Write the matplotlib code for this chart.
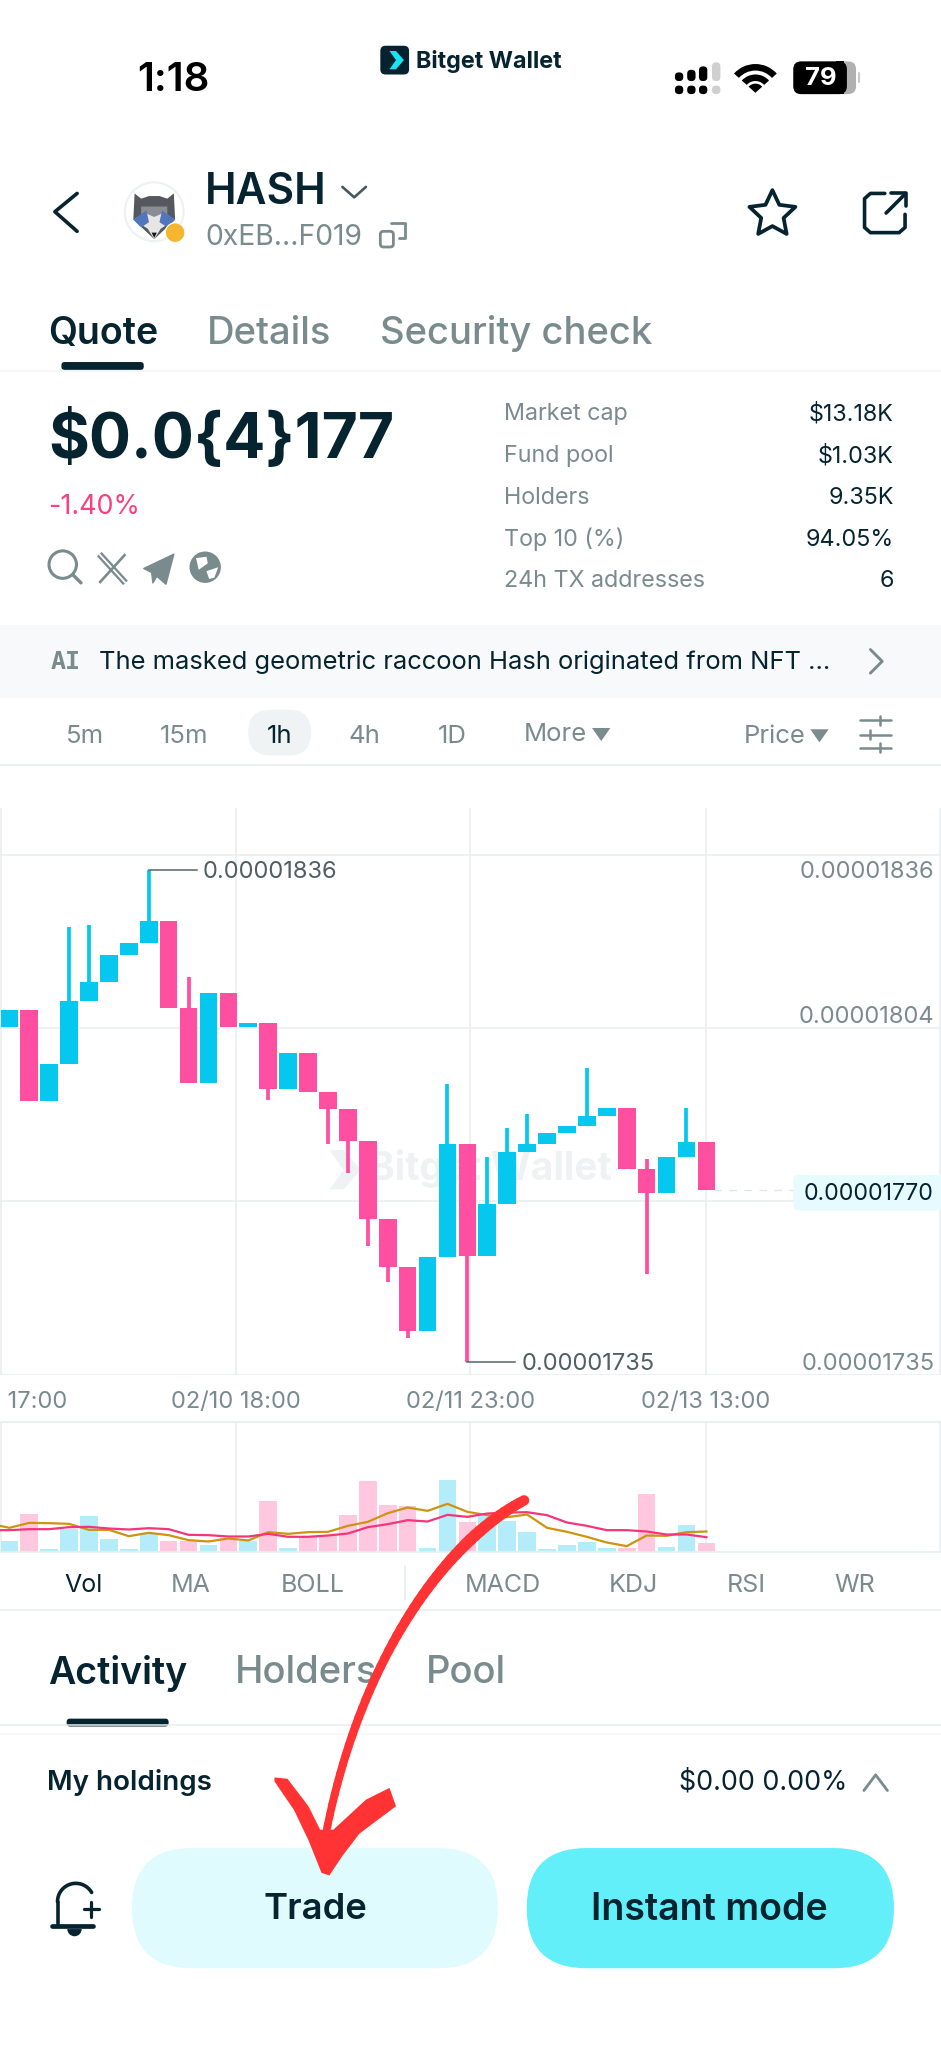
import numpy as np
import matplotlib
matplotlib.use('Agg')
import matplotlib.pyplot as plt
from matplotlib.patches import Circle, FancyBboxPatch, Polygon, Wedge, Rectangle
from matplotlib.collections import LineCollection

plt.rcParams['font.family'] = ['Inter', 'DejaVu Sans']

# candle values, in units of 1e-8
opens = [1803.7, 1807.3, 1788.6, 1796.2, 1809.0, 1812.9, 1818.4, 1820.9, 1825.5, 1807.6, 1792.3, 1810.7,
         1803.8, 1804.5, 1791.0, 1798.3, 1790.3, 1786.8, 1780.3, 1764.4, 1754.4, 1741.4, 1756.5, 1779.8,
         1756.7, 1767.3, 1778.0, 1779.7, 1781.9, 1783.4, 1785.4, 1787.0, 1774.5, 1769.7, 1777.1, 1780.2]
closes = [1807.3, 1788.6, 1796.2, 1809.0, 1812.9, 1818.4, 1820.9, 1825.5, 1807.6, 1792.3, 1810.7, 1803.8,
          1804.5, 1791.0, 1798.3, 1790.3, 1786.8, 1780.3, 1764.4, 1754.4, 1741.4, 1756.5, 1779.8, 1756.7,
          1767.3, 1778.0, 1779.7, 1781.9, 1783.4, 1785.4, 1787.0, 1774.5, 1769.7, 1777.1, 1780.2, 1770.2]
highs = [1807.3, 1807.3, 1796.2, 1824.3, 1824.6, 1818.4, 1820.9, 1836.0, 1825.5, 1814.0, 1810.7, 1810.7,
         1804.5, 1804.5, 1798.3, 1798.3, 1790.3, 1786.8, 1780.3, 1764.4, 1754.4, 1756.5, 1792.1, 1779.8,
         1777.1, 1783.0, 1785.9, 1781.9, 1783.4, 1795.2, 1787.0, 1787.0, 1776.6, 1777.1, 1787.0, 1780.2]
lows = [1803.7, 1788.6, 1788.6, 1796.2, 1809.0, 1812.9, 1818.4, 1820.9, 1807.6, 1792.3, 1792.3, 1803.8,
        1803.8, 1788.8, 1791.0, 1790.3, 1779.8, 1773.8, 1758.8, 1751.4, 1739.9, 1741.4, 1756.5, 1735.0,
        1756.7, 1767.3, 1778.0, 1779.7, 1781.9, 1783.4, 1785.4, 1774.5, 1753.0, 1769.7, 1777.1, 1770.2]

# volume and its two averages (relative heights, no scale shown)
volumes = [33, 114, 8, 69, 110, 40, 9, 56, 32, 34, 22, 41, 33, 153, 13, 44, 51, 111,
           213, 143, 139, 13, 216, 91, 108, 93, 60, 9, 21, 31, 13, 13, 174, 14, 81, 26]
vol_ma_gold = [86, 73, 88, 87, 85, 67, 67, 48, 58, 51, 36, 32, 41, 35, 60, 55, 60, 61, 79,
               91, 117, 134, 124, 145, 121, 111, 105, 113, 73, 61, 46, 29, 18, 50, 49, 60, 62]
vol_ma_pink = [66, 66, 69, 69, 75, 76, 71, 68, 72, 69, 52, 51, 47, 47, 55, 46, 46, 50, 56, 75,
               84, 96, 92, 112, 106, 116, 119, 120, 111, 89, 79, 66, 66, 62, 53, 53, 45]

grid_x = [-0.43, 11.37, 23.15, 34.97, 46.74]
grid_prices = [1839.0, 1803.5, 1768.0, 1732.33]
time_labels = [' 17:00', '02/10 18:00', '02/11 23:00', '02/13 13:00', '']
price_labels = ['0.00001836', '0.00001804', '0.00001735']
price_label_y = [1836.0, 1803.6, 1735.0]
last_price = 1770.2

stat_names = ['Market cap', 'Fund pool', 'Holders', 'Top 10 (%)', '24h TX addresses']
stat_values = ['$13.18K', '$1.03K', '9.35K', '94.05%', '6']
intervals = ['5m', '15m', '1h', '4h', '1D']
interval_x = [65, 141, 214, 279, 346]
indicators = ['Vol', 'MA', 'BOLL', 'MACD', 'KDJ', 'RSI', 'WR']
indicator_x = [64, 146, 239, 385, 485, 571, 654]

DARK = '#062330'
GREY = '#7A8B8E'
LINE = '#E8EEEE'
CYAN = '#06C8EF'
PINK = '#FF4FA0'
RED = '#FF3333'
LABEL = 17

W, H = 720, 1567
fig = plt.figure(figsize=(9.41, 20.48), dpi=100, facecolor='white')


def add_axes_between(top, bottom):
    return fig.add_axes([0, 1 - bottom / H, 1, (bottom - top) / H])


x = np.arange(len(opens))
xlim = (-0.469, 46.78)
body_w = 0.887
up = np.array(closes) >= np.array(opens)

# price chart
ax = add_axes_between(618, 1052)
ax.set_zorder(1)
ax.set_xlim(*xlim)
ax.set_ylim(1732.33, 1848.71)
candle_colors = [CYAN if u else PINK for u in up]
ax.bar(x, np.abs(np.array(closes) - np.array(opens)), bottom=np.minimum(opens, closes),
       width=body_w, color=candle_colors, zorder=3)
ax.vlines(x, lows, highs, colors=candle_colors, lw=2.7, zorder=3)
ax.set_xticks(grid_x, time_labels)
ax.set_yticks(grid_prices, [])
ax.grid(True, color=LINE, lw=1.1, zorder=0)
ax.set_axisbelow(True)
ax.tick_params(length=0, pad=11.5, labelsize=LABEL, labelcolor=GREY)
ax.get_xticklabels()[0].set_ha('left')
for s in ax.spines.values():
    s.set_visible(False)

for lab, y in zip(price_labels[:1] + price_labels[2:], price_label_y[:1] + price_label_y[2:]):
    ax.text(46.45, y, lab, ha='right', va='center_baseline', fontsize=LABEL, color=GREY)
ax.text(46.45, price_label_y[1], price_labels[1], ha='right', va='bottom', fontsize=LABEL, color=GREY)

# high / low markers
hi_i, lo_i = int(np.argmax(highs)), int(np.argmin(lows))
ax.plot([hi_i, hi_i + 2.4], [highs[hi_i], highs[hi_i]], color='#55666A', lw=1.1, zorder=4)
ax.text(hi_i + 2.7, highs[hi_i], '%.8f' % (highs[hi_i] * 1e-8), va='center_baseline', fontsize=LABEL, color='#4F5F62')
ax.plot([lo_i, lo_i + 2.4], [lows[lo_i], lows[lo_i]], color='#55666A', lw=1.1, zorder=4)
ax.text(lo_i + 2.7, lows[lo_i], '%.8f' % (lows[lo_i] * 1e-8), va='center_baseline', fontsize=LABEL, color='#4F5F62')

# last price line
ax.plot([35.4, 39.6], [last_price, last_price], color='#DDE4E4', lw=0.9, ls=(0, (6, 6)), zorder=2)

# volume chart
vax = add_axes_between(1088, 1187.6)
vax.set_zorder(1)
vax.set_xlim(*xlim)
vax.set_ylim(0, 391)
vax.bar(x, volumes, width=body_w, color=['#B5ECFA' if u else '#FFC8DF' for u in up], zorder=2)
xl = np.arange(-1, 36)
vax.plot(xl, vol_ma_gold, color='#CC9410', lw=1.6, zorder=3)
vax.plot(xl, vol_ma_pink, color='#F5357A', lw=1.6, zorder=4)
vax.set_xticks(grid_x, [])
vax.set_yticks([])
vax.grid(True, axis='x', color=LINE, lw=1.1, zorder=0)
vax.set_axisbelow(True)
vax.tick_params(length=0)
for k, s in vax.spines.items():
    s.set_visible(k in ('top', 'bottom'))
    s.set_color(LINE)
    s.set_linewidth(1.3)

# interface layer in reference pixel units
ui = fig.add_axes([0, 0, 1, 1])
ui.set_zorder(2)
ui.patch.set_alpha(0)
ui.set_xlim(0, W)
ui.set_ylim(H, 0)
ui.axis('off')


def t(px, py, s, size, color=DARK, weight='normal', ha='left', **kw):
    ui.text(px, py - size * 0.06, s, fontsize=size, color=color, fontweight=weight, ha=ha, va='center_baseline', **kw)


def pl(xs, ys, color=DARK, lw=2.3, **kw):
    ui.plot(xs, ys, color=color, lw=lw, solid_capstyle=kw.pop('cap', 'round'), solid_joinstyle='round', **kw)


def rbox(x0, y0, x1, y1, r, color, z=1, **kw):
    ui.add_patch(FancyBboxPatch((x0 + r, y0 + r), x1 - x0 - 2 * r, y1 - y0 - 2 * r,
                                boxstyle='round,pad=%f,rounding_size=%f' % (r, r), fc=color, ec='none', zorder=z, **kw))


# watermark sits under the candles
ax.text(375, 894, 'Bitget Wallet', transform=ui.transData, ha='center', va='center', fontsize=28,
        fontweight='bold', color='#EEF2F3', zorder=1)
ax.add_patch(Polygon([(252, 880), (263, 880), (276, 895), (263, 910), (252, 910), (263, 895)],
                     transform=ui.transData, fc='#EEF2F3', ec='none', zorder=1))

# status bar
t(133, 60, '1:18', 29, color='#000000', weight='semibold', ha='center')
rbox(291, 35, 313, 57, 4, '#06222E')
ui.add_patch(Polygon([(298, 39), (303, 39), (309, 46), (303, 53), (298, 53), (303, 46)], fc='#17E5F2', ec='none', zorder=2))
t(318, 46, 'Bitget Wallet', 16.8, weight='bold')
sig_x = [519.6, 529, 538, 548]
sig_top = [55.4, 53.4, 50.8, 47.7]
for i in range(4):
    c = '#000000' if i < 3 else '#CFCFCF'
    rbox(sig_x[i] - 3.2, sig_top[i], sig_x[i] + 3.2, 62, 3, c)
    rbox(sig_x[i] - 3.2, 65.5, sig_x[i] + 3.2, 72, 3, c)
for r, w in [(22, 5), (14, 5)]:
    ui.add_patch(Wedge((578, 71), r, 222, 318, width=w, fc='#000000', ec='none'))
ui.add_patch(Wedge((578, 71), 7, 222, 318, fc='#000000', ec='none'))
rbox(607, 47, 655, 72, 6, '#B0B0B0')
rbox(607, 47, 648, 72, 6, '#000000', z=2)
ui.add_patch(Rectangle((640, 47), 6, 25, fc='#000000', ec='none', zorder=2))
pl([657.5, 657.5], [56, 63], color='#C8C8C8', lw=1.5)
ui.text(628, 60, '79', fontsize=18.5, color='white', fontweight='bold', ha='center', va='center', zorder=3)

# header
pl([59, 42, 59], [148, 162, 177], lw=2.6)
ui.add_patch(Circle((118, 162), 22.5, fc='white', ec='#EDF1F1', lw=1.5))
ui.add_patch(Polygon([(103, 148), (108, 152), (114, 150), (122, 150), (128, 152), (133, 148), (134, 168), (118, 183), (102, 168)], fc='#55585E', ec='none'))
ui.add_patch(Polygon([(108, 158), (128, 158), (128, 166), (118, 168), (108, 166)], fc='#8A8D92', ec='none'))
ui.add_patch(Polygon([(102, 168), (111, 163), (118, 166), (125, 163), (134, 168), (123, 175), (118, 183), (113, 175)], fc='#E6E6E6', ec='none'))
ui.add_patch(Polygon([(102, 168), (112, 161), (114, 170), (108, 174)], fc='#5276BB', ec='none'))
ui.add_patch(Polygon([(134, 168), (124, 161), (122, 170), (128, 174)], fc='#5276BB', ec='none'))
ui.add_patch(Polygon([(116, 178), (120, 178), (118, 182)], fc='#111111', ec='none'))
ui.add_patch(Circle((134, 178), 7.5, fc='#F3B62D', ec='white', lw=0.8))
t(157, 146, 'HASH', 30.5, weight='semibold')
pl([262, 271, 280], [143, 151, 143], color='#44585F', lw=1.9)
t(157, 181, '0xEB...F019', 20.4, color=GREY)
ui.add_patch(FancyBboxPatch((291, 177), 10, 12, boxstyle='round,pad=0,rounding_size=2.5', fc='none', ec=GREY, lw=2))
pl([299, 310, 310, 305], [171, 171, 182, 182], color=GREY, lw=2)
ang = np.deg2rad(np.arange(0, 360, 36) - 90)
rad = np.array([18.5, 9] * 5)
ui.add_patch(Polygon(np.c_[591 + rad * np.cos(ang), 164 + rad * np.sin(ang)], fc='none', ec=DARK, lw=2.7, joinstyle='round'))
pl([677, 666, 661.5, 661.5, 666, 688, 692.5, 692.5], [148, 148, 152, 174, 178, 178, 174, 164], lw=2.6)
pl([678, 692], [163, 149], lw=2.6)
pl([682, 693, 693], [148, 148, 158], lw=2.6)

# top tabs
t(37, 254, 'Quote', 27, weight='semibold')
t(158, 254, 'Details', 27.5, color=GREY, weight='medium')
t(291, 254, 'Security check', 27.5, color=GREY, weight='medium')
rbox(47, 277, 110, 283, 2.5, DARK)
pl([0, W], [284, 284], color='#F2F5F5', lw=1.1)

# price block
t(37, 335, '$0.0{4}177', 45, weight='bold')
t(37, 387, '-1.40%', 19.4, color='#F9417F')
ui.add_patch(Circle((48, 432), 10.5, fc='none', ec=GREY, lw=2.2))
pl([56, 62], [440, 446], color=GREY, lw=2.4)
pl([76, 96], [424, 446], color=GREY, lw=4.6, cap='butt')
pl([76, 96], [424, 446], color='white', lw=1.3, cap='butt')
pl([96, 76], [424, 446], color=GREY, lw=1.9, cap='butt')
ui.add_patch(Polygon([(110, 435), (133, 424), (127, 447), (120, 441), (117, 446), (116, 438)], fc=GREY, ec=GREY, lw=1, joinstyle='round'))
ui.add_patch(Circle((157, 434), 12, fc=GREY, ec='none'))
ui.add_patch(Polygon([(150, 427), (158, 426), (159, 431), (152, 436)], fc='white', ec='none'))
ui.add_patch(Polygon([(158, 437), (167, 434), (164, 442), (160, 443)], fc='white', ec='none'))

for i in range(5):
    t(386, 316 + 32 * i, stat_names[i], 16.8, color=GREY)
    t(684, 316 + 32 * i, stat_values[i], 16.8, ha='right')

# AI banner
ui.add_patch(Rectangle((0, 478), W, 56, fc='#F7F9FA', ec='none'))
t(39, 506, 'AI', 18, color=GREY, weight='bold', family='DejaVu Sans Mono')
t(76, 506, 'The masked geometric raccoon Hash originated from NFT ...', 18.4)
pl([666, 675, 666], [497, 506, 515], color=GREY, lw=2.1)

# interval row
rbox(190, 543, 238, 578, 17, '#EFF3F3')
for lab, px in zip(intervals, interval_x):
    t(px, 563, lab, 18.5, color=DARK if lab == '1h' else GREY, ha='center')
t(401, 561, 'More', 18.5, color=GREY)
ui.add_patch(Polygon([(453, 557), (467, 557), (460, 567)], fc=GREY, ec='none'))
t(569, 563, 'Price', 18.5, color=GREY)
ui.add_patch(Polygon([(620, 558), (634, 558), (627, 568)], fc=GREY, ec='none'))
for yy, tick in zip([551, 562, 572], [673, 666, 673]):
    pl([658, 682], [yy, yy], color=GREY, lw=1.8)
    pl([tick, tick], [yy - 3.5, yy + 3.5], color=GREY, lw=1.8)
pl([0, W], [585, 585], color=LINE, lw=1.2)

# last price tag
rbox(607, 899, 724, 926, 4, '#E5FBFD')
t(714, 913, '%.8f' % (last_price * 1e-8), 16.7, ha='right', zorder=3)

# indicator row
for lab, px in zip(indicators, indicator_x):
    t(px, 1212, lab, 18, color=DARK if lab == 'Vol' else GREY, ha='center')
pl([310, 310], [1198, 1224], color=LINE, lw=1.2)
pl([0, W], [1232, 1232], color=LINE, lw=1.2)

# lower tabs
t(37, 1279, 'Activity', 27, weight='semibold')
t(180, 1279, 'Holders', 27.5, color=GREY, weight='medium')
t(326, 1279, 'Pool', 27.5, color=GREY, weight='medium')
rbox(51, 1315, 129, 1321, 2.5, DARK)
pl([0, W], [1320, 1320], color=LINE, lw=1.1)
pl([0, W], [1327, 1327], color='#F4F6F6', lw=1.1)

t(36, 1363, 'My holdings', 20, weight='semibold')
t(648, 1363, '$0.00 0.00%', 19.3, ha='right')
pl([661, 670, 679], [1370, 1358, 1370], color=GREY, lw=2)

# bottom bar
pl([44, 44], [1474, 1455], lw=2.6)
th = np.deg2rad(np.linspace(180, 330, 20))
pl(58 + 14 * np.cos(th), 1455 + 14 * np.sin(th), lw=2.6)
pl([40, 71], [1474, 1474], lw=3.4)
ui.add_patch(Wedge((57, 1476), 5.5, 0, 180, fc=DARK, ec='none'))
pl([64, 76], [1461, 1461], lw=2.3)
pl([70, 70], [1455, 1467], lw=2.3)
rbox(101, 1414, 381, 1506, 46, '#E0FBFE')
rbox(403, 1414, 684, 1506, 46, '#62EFFA')
t(241, 1460, 'Trade', 26.2, weight='semibold', ha='center', zorder=3)
t(543, 1460, 'Instant mode', 27, weight='semibold', ha='center', zorder=3)

# hand drawn arrow over everything
s = np.linspace(0, 1, 50)[:, None]
p0, p1, p2, p3 = [np.array(p, float) for p in [(401, 1148), (340, 1180), (275, 1270), (249, 1405)]]
pts = (1 - s) ** 3 * p0 + 3 * s * (1 - s) ** 2 * p1 + 3 * s ** 2 * (1 - s) * p2 + s ** 3 * p3
segs = np.stack([pts[:-1], pts[1:]], axis=1)
aw = np.interp(s[:-1, 0], [0, 0.2, 0.6, 1], [7.5, 8.5, 6.5, 5.5])
ui.add_collection(LineCollection(segs, colors=RED, linewidths=aw, capstyle='round', zorder=10))
ui.add_patch(Polygon([(210, 1360), (220, 1361), (236, 1382), (245, 1400), (255, 1400), (280, 1377), (298, 1368),
                      (303, 1382), (275, 1403), (262, 1420), (252, 1435), (246, 1433), (236, 1408), (225, 1385), (210, 1363)],
                     fc=RED, ec='none', zorder=10))

fig.savefig('out.png', dpi=100)
